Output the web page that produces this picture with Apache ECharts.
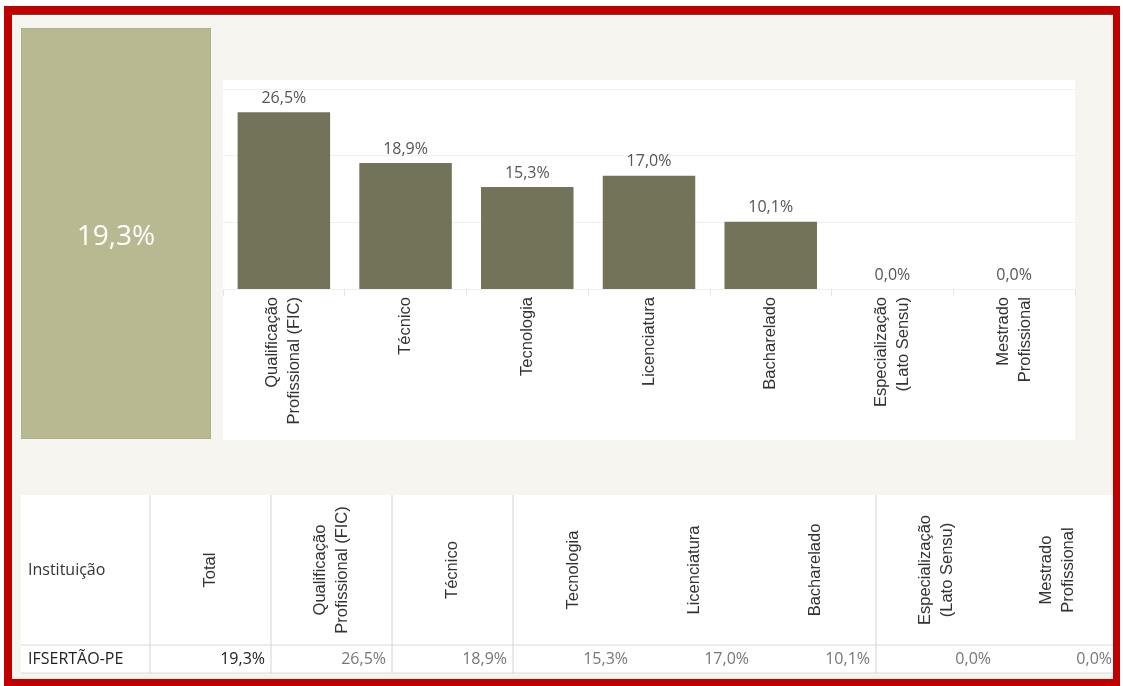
<!DOCTYPE html>
<html>
<head>
<meta charset="utf-8">
<script src="https://cdn.jsdelivr.net/npm/echarts@6/dist/echarts.min.js"></script>
<style>
  html, body { margin: 0; padding: 0; background: #ffffff; }
  #wrap { position: relative; width: 1123px; height: 686px; overflow: hidden; }
  .abs { position: absolute; }
  #frame { left: 4px; top: 6px; width: 1116px; height: 680px; background: #c00000; }
  #cream { left: 12px; top: 14px; width: 1101px; height: 665px; background: #f6f5ef; border-top: 1px solid #6b4a3a; box-sizing: border-box; }
  #tile { left: 21px; top: 28px; width: 190px; height: 411px; background: #b8b891; box-sizing: border-box; border: 1px dotted #a8a882; }
  #panel { left: 223px; top: 80px; width: 852px; height: 360px; background: #ffffff; }
  #tablebg { left: 21px; top: 495px; width: 1092px; height: 178px; background: #ffffff; }
  #chart { left: 0; top: 0; width: 1123px; height: 686px; }
</style>
</head>
<body>
<div id="wrap">
  <div id="frame" class="abs"></div>
  <div id="cream" class="abs"></div>
  <div id="tile" class="abs"></div>
  <div id="panel" class="abs"></div>
  <div id="tablebg" class="abs"></div>
  <div id="chart" class="abs"></div>
</div>
<script>
// ---- data ----
const categories = ['Qualificação\nProfissional (FIC)', 'Técnico', 'Tecnologia', 'Licenciatura', 'Bacharelado', 'Especialização\n(Lato Sensu)', 'Mestrado\nProfissional'];
const values = [26.5, 18.9, 15.3, 17.0, 10.1, 0.0, 0.0];
const totalValue = 19.3;
const institution = 'IFSERTÃO-PE';
const tableFirstHeader = 'Instituição';
const totalHeader = 'Total';
const yMin = 0, yMax = 30, yInterval = 10;
const dividerBefore = [1, 2, 3, 4, 7];

function pct(v) { return v.toFixed(1).replace('.', ',') + '%'; }

const tableCols = [tableFirstHeader, totalHeader].concat(categories);
const tableVals = [null, totalValue].concat(values);

const chart = echarts.init(document.getElementById('chart'), null, { renderer: 'canvas' });

const valueFont = '"Open Sans", "Noto Sans", sans-serif';
const headFont = '"Liberation Sans", Arial, sans-serif';

chart.setOption({
  backgroundColor: 'transparent',
  animation: false,
  graphic: [
    {
      type: 'text',
      x: 116, y: 237,
      style: { text: pct(totalValue), fill: '#ffffff', font: '500 28px ' + valueFont, align: 'center', verticalAlign: 'middle' }
    }
  ],
  grid: [
    { left: 223, top: 89, width: 852, height: 200, containLabel: false },
    { left: 29, top: 495, width: 1089, height: 178, containLabel: false }
  ],
  xAxis: [
    {
      type: 'category', gridIndex: 0, data: categories,
      axisLine: { show: true, lineStyle: { color: '#efefef', width: 1 } },
      axisTick: { show: true, alignWithLabel: false, length: 7, lineStyle: { color: '#e6e6e6' } },
      axisLabel: { rotate: 90, margin: 8, fontSize: 16.5, lineHeight: 22, color: '#333333', fontFamily: headFont, interval: 0 }
    },
    { type: 'category', gridIndex: 1, data: tableCols, show: false }
  ],
  yAxis: [
    {
      type: 'value', gridIndex: 0, min: yMin, max: yMax, interval: yInterval,
      axisLabel: { show: false }, axisLine: { show: false }, axisTick: { show: false },
      splitLine: { show: true, lineStyle: { color: '#f0f0f0', width: 1 } }
    },
    { type: 'value', gridIndex: 1, min: 0, max: 178, inverse: true, show: false }
  ],
  series: [
    {
      type: 'bar', xAxisIndex: 0, yAxisIndex: 0, data: values,
      barCategoryGap: '24%',
      itemStyle: { color: '#73735a' },
      label: {
        show: true, position: 'top', distance: 6,
        formatter: p => pct(p.value),
        color: '#555555', fontSize: 16, fontFamily: valueFont
      }
    },
    {
      type: 'custom', xAxisIndex: 1, yAxisIndex: 1,
      data: tableCols.map((c, i) => [i]),
      renderItem: function (params, api) {
        const i = api.value(0);
        const c = api.coord([i, 0]);
        const bw = api.size([1, 0])[0];
        const left = c[0] - bw / 2;
        const right = c[0] + bw / 2;
        const yTop = api.coord([i, 0])[1];
        const yHead = api.coord([i, 75])[1];
        const ySplit = api.coord([i, 150])[1];
        const yRow = api.coord([i, 164])[1];
        const yBot = api.coord([i, 178])[1];
        const children = [];
        const lx = i === 0 ? left - 8 : left;
        const rx = Math.min(right, 1113);
        children.push({ type: 'line', shape: { x1: lx, y1: ySplit, x2: rx, y2: ySplit }, style: { stroke: '#dadada', lineWidth: 1 } });
        children.push({ type: 'line', shape: { x1: lx, y1: yBot, x2: rx, y2: yBot }, style: { stroke: '#dadada', lineWidth: 1 } });
        if (dividerBefore.indexOf(i) >= 0) {
          children.push({ type: 'line', shape: { x1: left, y1: yTop, x2: left, y2: yBot }, style: { stroke: '#d4d4d4', lineWidth: 1 } });
        }
        if (i === 0) {
          children.push({ type: 'text', x: left - 1, y: yHead, style: { text: tableCols[i], align: 'left', verticalAlign: 'middle', fill: '#333333', font: '16px ' + valueFont } });
          children.push({ type: 'text', x: left - 1, y: yRow, style: { text: institution, align: 'left', verticalAlign: 'middle', fill: '#222222', font: '16px ' + valueFont } });
        } else {
          children.push({ type: 'text', x: c[0], y: yHead, rotation: Math.PI / 2, style: { text: tableCols[i], align: 'center', verticalAlign: 'middle', fill: '#333333', font: '16.5px ' + headFont, lineHeight: 22 } });
          children.push({ type: 'text', x: right - 6, y: yRow, style: { text: pct(tableVals[i]), align: 'right', verticalAlign: 'middle', fill: i === 1 ? '#222222' : '#777777', font: '16px ' + valueFont } });
        }
        return { type: 'group', children: children };
      }
    }
  ]
});
</script>
</body>
</html>
